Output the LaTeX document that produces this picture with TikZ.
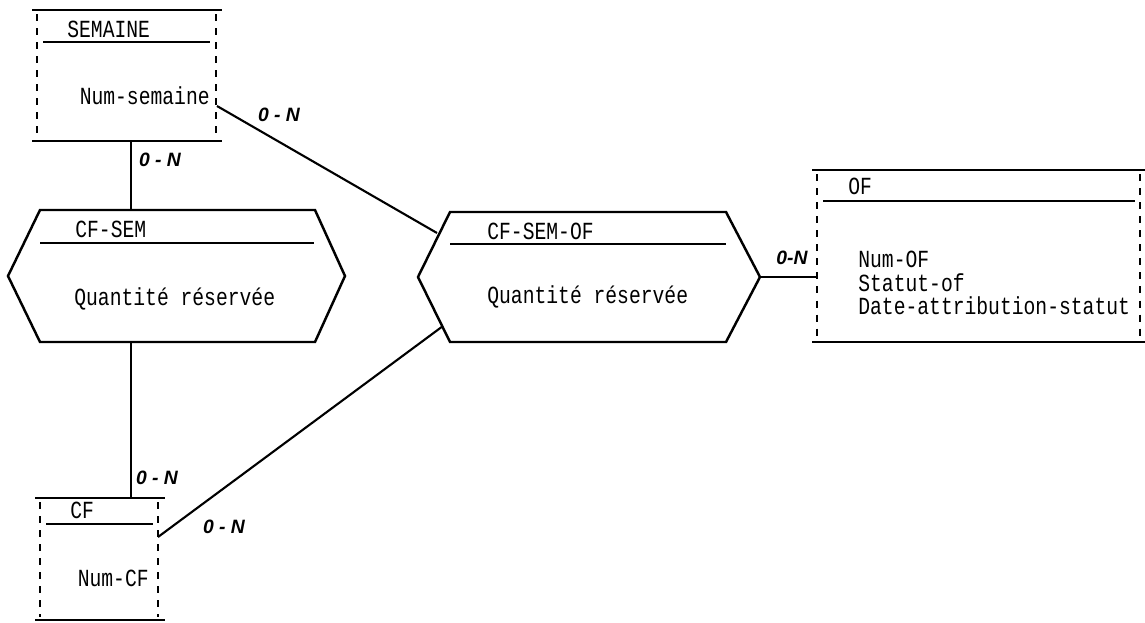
\documentclass[tikz,border=0pt]{standalone}
\usepackage{fontspec}
\newfontfamily\boxfont[FakeStretch=0.8]{Liberation Mono}
\newfontfamily\handfont{Liberation Sans}
\usetikzlibrary{calc}

\begin{document}
\begin{tikzpicture}[x=0.02cm, y=-0.02cm,
    hard/.style={line width=1.4pt},
    side/.style={line width=1.2pt, dash pattern=on 4pt off 4pt},
    txt/.style={font=\boxfont\fontsize{14}{16}\selectfont, inner sep=0pt},
    card/.style={font=\handfont\bfseries\itshape\fontsize{11}{13}\selectfont, inner sep=0pt},
    link/.style={line width=1.2pt}
]
    \useasboundingbox (0,0) rectangle (1145,622);

    % SEMAINE
    \draw[hard] (32,10) -- (222,10);
    \draw[hard] (32,141) -- (222,141);
    \draw[side] (37,14) -- (37,138);
    \draw[side] (216,14) -- (216,138);
    \draw[hard] (43,42) -- (210,42);
    \node[txt, anchor=west] (semT) at (67,29) {SEMAINE};
    \node[txt, anchor=east] (semA) at (210,96) {Num-semaine};
    \coordinate (semS) at (131,141);
    \coordinate (semE) at (217,106);

    % CF-SEM
    \draw[hard] (8,276) -- (40,210) -- (315,210) -- (345,276) -- (315,342) -- (40,342) -- cycle;
    \draw[hard] (40,243) -- (314,243);
    \node[txt, anchor=west] (cfsemT) at (75,229) {CF-SEM};
    \node[txt, anchor=west] (cfsemA) at (74,299) {Quantité réservée};
    \coordinate (cfsemN) at (131,210);
    \coordinate (cfsemS) at (131,342);

    % CF-SEM-OF
    \draw[hard] (418,277) -- (450,212) -- (726,212) -- (760,277) -- (726,342) -- (450,342) -- cycle;
    \draw[hard] (450,244) -- (726,244);
    \node[txt, anchor=west] (cfsemofT) at (487,231) {CF-SEM-OF};
    \node[txt, anchor=west] (cfsemofA) at (487,297) {Quantité réservée};
    \coordinate (cfsemofNW) at (437,233);
    \coordinate (cfsemofSW) at (443,326);
    \coordinate (cfsemofE) at (760,277);

    % OF
    \draw[hard] (812,170) -- (1145,170);
    \draw[hard] (812,342) -- (1145,342);
    \draw[side] (817,174) -- (817,339);
    \draw[side] (1140,174) -- (1140,339);
    \draw[hard] (823,201) -- (1135,201);
    \node[txt, anchor=west] (ofT) at (848,186) {OF};
    \node[txt, anchor=west] (ofA) at (858,259) {Num-OF};
    \node[txt, anchor=west] (ofB) at (858,283) {Statut-of};
    \node[txt, anchor=west] (ofC) at (858,306) {Date-attribution-statut};
    \coordinate (ofW) at (817,277);

    % CF
    \draw[hard] (35,498) -- (165,498);
    \draw[hard] (35,620) -- (165,620);
    \draw[side] (40,502) -- (40,617);
    \draw[side] (158,502) -- (158,617);
    \draw[hard] (46,524) -- (153,524);
    \node[txt, anchor=west] (cfT) at (70,510) {CF};
    \node[txt, anchor=east] (cfA) at (149,578) {Num-CF};
    \coordinate (cfN) at (131,498);
    \coordinate (cfE) at (158,537);

    % liens
    \draw[link] (semS) -- (cfsemN);
    \draw[link] (cfsemS) -- (cfN);
    \draw[link] (semE) -- (cfsemofNW);
    \draw[link] (cfE) -- (cfsemofSW);
    \draw[link] (cfsemofE) -- (ofW);

    \node[card] (c1) at (160,160) {0 - N};
    \node[card] (c2) at (279,115) {0 - N};
    \node[card] (c3) at (157,478) {0 - N};
    \node[card] (c4) at (224,527) {0 - N};
    \node[card] (c5) at (792,258) {0-N};
\end{tikzpicture}
\end{document}
